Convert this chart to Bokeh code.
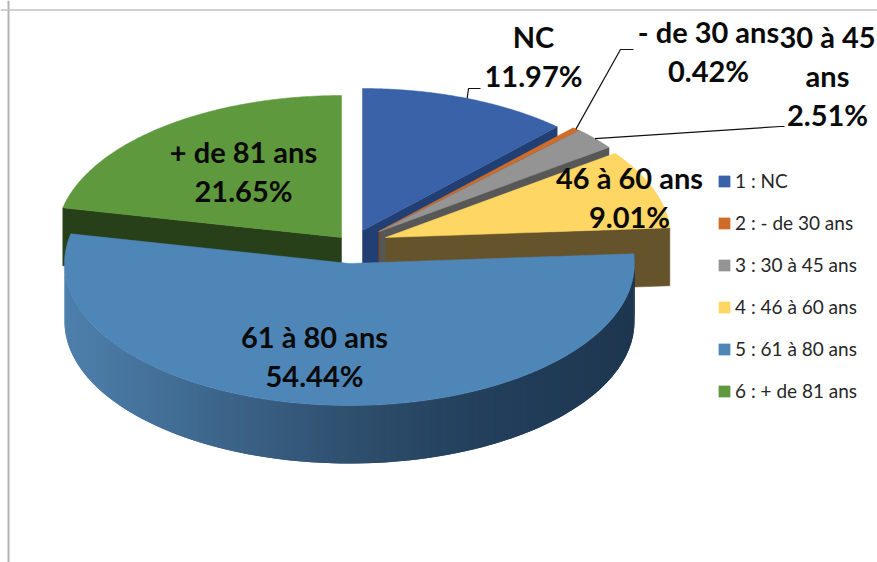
import numpy as np
from bokeh.plotting import figure
from bokeh.models import Range1d, Span, Legend, LegendItem
from bokeh.core.properties import value
from bokeh.embed import file_html
from bokeh.resources import INLINE

# ---- data ----
legend_labels = ["1 : NC", "2 : - de 30 ans", "3 : 30 à 45 ans", "4 : 46 à 60 ans", "5 : 61 à 80 ans", "6 : + de 81 ans"]
shares = [11.97, 0.42, 2.51, 9.01, 54.44, 21.65]
name_lines = [["NC"], ["- de 30 ans"], ["30 à 45", "ans"], ["46 à 60 ans"], ["61 à 80 ans"], ["+ de 81 ans"]]

# ---- styles and layout ----
top_colors = ["#3a62a9", "#d06c28", "#949494", "#fdd663", "#4f86b8", "#5f993e"]
wall_colors = ["#223f73", "#7a411a", "#575757", "#65532b", None, "#27401a"]
apexes = [(362, 230), (378, 231), (379, 231), (385, 237), (349, 263), (341, 237)]
label_anchors = [(533, 36), (708, 31), (827, 36), (629, 177), (314, 336), (243, 151)]
leader_elbows = [[(468, 88), (480, 88)], [(620, 49), (633, 49)], [(780, 126), (784, 126)]]
RX, RY, DEPTH = 285, 142, 58
LINE_STEP = 39
W, H = 877, 562
ramp_x = [0.0, 0.5, 0.72, 1.0]
ramp_rgb = [(0x4e, 0x80, 0xad), (0x2f, 0x50, 0x6f), (0x23, 0x40, 0x5c), (0x1e, 0x36, 0x50)]

# ---- geometry from the data ----
shares_arr = np.array(shares)
edges = np.concatenate([[0], np.cumsum(shares_arr)]) / shares_arr.sum() * 2 * np.pi


def rim(apex, t):
    return apex[0] + RX * np.sin(t), apex[1] - RY * np.cos(t)


p = figure(width=W, height=H, x_range=Range1d(0, W), y_range=Range1d(H, 0),
           output_backend="svg", toolbar_location=None, min_border=0,
           background_fill_color="white", border_fill_color="white", outline_line_color=None)
p.axis.visible = False
p.grid.visible = False

p.add_layout(Span(location=8, dimension="height", line_color="#b4b4b4", line_width=2))
p.add_layout(Span(location=9.5, dimension="width", line_color="#c0c0c0", line_width=1.5))


def radial_wall(i, edge):
    ax, ay = apexes[i]
    ex, ey = rim(apexes[i], edge)
    p.patch([ax, ex, ex, ax], [ay, ey, ey + DEPTH, ay + DEPTH],
            fill_color=wall_colors[i], line_color=wall_colors[i], line_width=0.5)


def top_face(i):
    t = np.linspace(edges[i], edges[i + 1], 160)
    xs, ys = rim(apexes[i], t)
    return p.patch(np.r_[apexes[i][0], xs], np.r_[apexes[i][1], ys],
                   fill_color=top_colors[i], line_color=top_colors[i], line_width=0.5)


tops = {}
radial_wall(5, edges[5])
tops[5] = top_face(5)
for i in [0, 1, 2, 3]:
    radial_wall(i, edges[i + 1])
    tops[i] = top_face(i)

# Outer wall of the large slice, shaded by overlapping strips
t_wall = np.linspace(edges[4], min(edges[5], 1.5 * np.pi), 160)
wx, wy = rim(apexes[4], t_wall)
x_lo, x_hi = apexes[4][0] - RX, apexes[4][0] + RX
strip_xs, strip_ys, strip_cols = [], [], []
last = len(t_wall) - 1
for k in range(last):
    n = min(k + 2, last)
    strip_xs.append([wx[k], wx[n], wx[n], wx[k]])
    strip_ys.append([wy[k], wy[n], wy[n] + DEPTH, wy[k] + DEPTH])
    f = (wx[k] - x_lo) / (x_hi - x_lo)
    rgb = [int(round(np.interp(f, ramp_x, [c[j] for c in ramp_rgb]))) for j in range(3)]
    strip_cols.append("#%02x%02x%02x" % tuple(rgb))
p.patches(strip_xs, strip_ys, fill_color=strip_cols, line_color=None)
tops[4] = top_face(4)

# Leader lines
for i, elbow in enumerate(leader_elbows):
    mid = 0.5 * (edges[i] + edges[i + 1])
    sx, sy = rim(apexes[i], mid)
    p.line([sx] + [q[0] for q in elbow], [sy] + [q[1] for q in elbow], line_color="#111111", line_width=1.2)

# Data labels
tx, ty, tt = [], [], []
for i in range(len(shares)):
    lines = name_lines[i] + [f"{shares[i]:.2f}%"]
    for j, s in enumerate(lines):
        tx.append(label_anchors[i][0])
        ty.append(label_anchors[i][1] + j * LINE_STEP)
        tt.append(s)
p.text(tx, ty, text=tt, text_font=value("Lato"), text_font_style="bold", text_font_size="29px",
       text_align="center", text_baseline="middle", text_color="#0a0a0a")

legend = Legend(items=[LegendItem(label=legend_labels[i], renderers=[tops[i]]) for i in range(6)],
                location=(717, 160), orientation="vertical", background_fill_alpha=0,
                border_line_color=None, padding=0, margin=0, spacing=19, label_height=20,
                glyph_width=14, glyph_height=14, label_standoff=4,
                label_text_font="Lato", label_text_font_size="19px", label_text_color="#262626")
p.add_layout(legend, "center")

open("out.html", "w").write(file_html(p, INLINE))
